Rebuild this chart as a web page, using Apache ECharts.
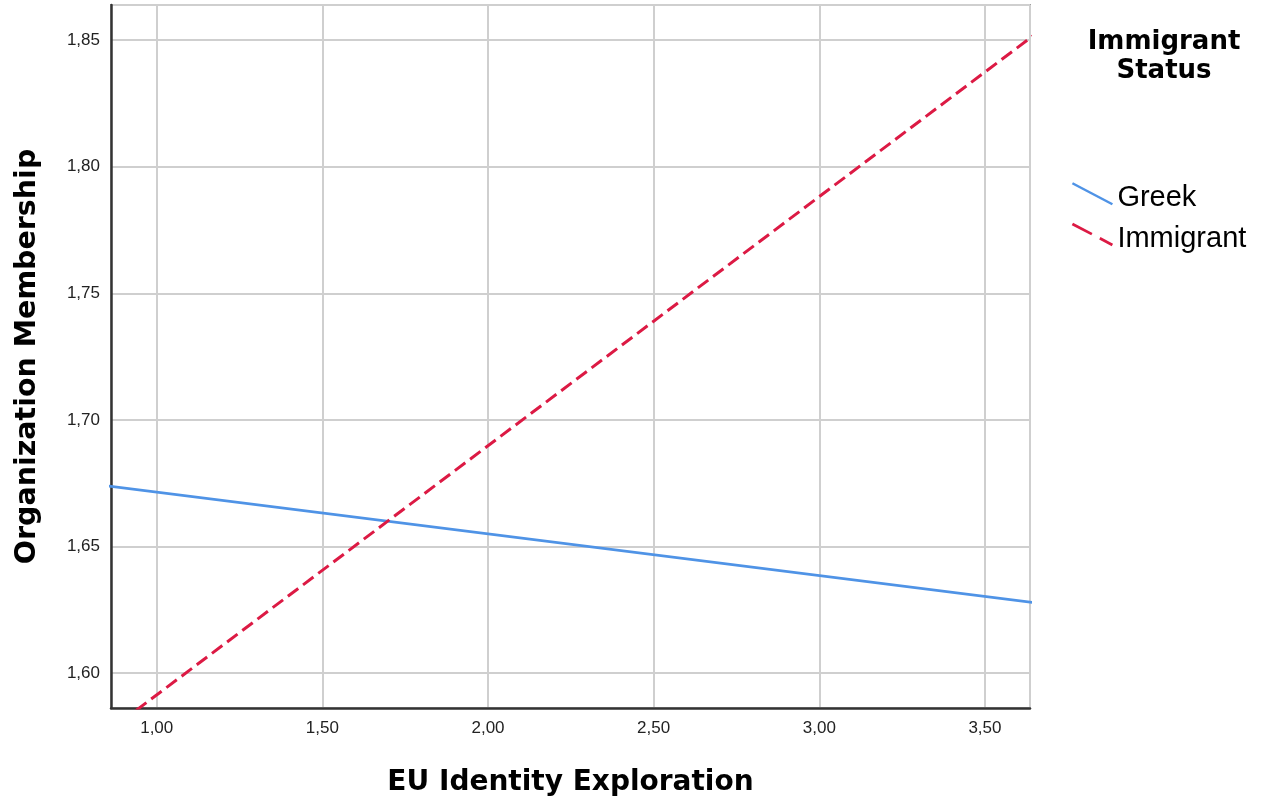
<!DOCTYPE html>
<html>
<head>
<meta charset="utf-8">
<script src="https://cdn.jsdelivr.net/npm/echarts@6/dist/echarts.min.js"></script>
<style>
html,body{margin:0;padding:0;background:#fff;}
#chart{width:1262px;height:802px;}
</style>
</head>
<body>
<div id="chart"></div>
<script>
// Data (line end points beyond the visible range, clipped by the axes)
const xPoints = [0.8, 3.7];
const greekValues = [1.6748, 1.6270];
const immigrantValues = [1.5717, 1.8571];
const seriesNames = ['Greek', 'Immigrant'];
const xAxisTitle = 'EU Identity Exploration';
const yAxisTitle = 'Organization Membership';
const legendTitle = 'Immigrant\nStatus';
const xRange = [0.862, 3.636];
const yRange = [1.5862, 1.8639];

const fmt = v => v.toFixed(2).replace('.', ',');
const chart = echarts.init(document.getElementById('chart'), null, {renderer: 'canvas'});
const sansFont = '"Liberation Sans", Arial, sans-serif';
const boldFont = '"DejaVu Sans", "Liberation Sans", sans-serif';
const iconPath = 'path://M0,0L40,21M40,30';

chart.setOption({
  animation: false,
  backgroundColor: '#ffffff',
  title: {
    text: legendTitle,
    left: 1159,
    top: 23,
    textAlign: 'center',
    textStyle: {fontFamily: boldFont, fontWeight: 'bold', fontSize: 26, lineHeight: 29, color: '#000'}
  },
  legend: {
    orient: 'vertical',
    left: 1066,
    top: 177,
    itemWidth: 40,
    itemHeight: 30,
    itemGap: 8,
    textStyle: {fontFamily: sansFont, fontSize: 29, color: '#000'},
    data: [
      {name: seriesNames[0], icon: iconPath, itemStyle: {color: 'transparent', borderColor: '#4f93e6', borderWidth: 2.5}},
      {name: seriesNames[1], icon: iconPath, itemStyle: {color: 'transparent', borderColor: '#dc1a44', borderWidth: 2.8, borderType: [22, 9]}}
    ]
  },
  grid: {
    left: 111, top: 5, right: 232, bottom: 94,
    show: true, borderColor: '#555', borderWidth: 1.5, backgroundColor: '#fff'
  },
  xAxis: {
    type: 'value',
    min: xRange[0], max: xRange[1],
    splitNumber: 5,
    name: xAxisTitle,
    nameLocation: 'middle',
    nameGap: 61,
    nameTextStyle: {fontFamily: boldFont, fontWeight: 'bold', fontSize: 28, color: '#000'},
    axisLine: {show: true, onZero: false, lineStyle: {color: '#333', width: 2.5}},
    axisTick: {show: false},
    axisLabel: {showMinLabel: false, showMaxLabel: false, margin: 12, fontFamily: sansFont, fontSize: 17, color: '#222', formatter: fmt},
    splitLine: {show: true, lineStyle: {color: '#cfcfcf', width: 2}}
  },
  yAxis: {
    type: 'value',
    min: yRange[0], max: yRange[1],
    splitNumber: 5,
    name: yAxisTitle,
    nameLocation: 'middle',
    nameGap: 69,
    nameTextStyle: {fontFamily: boldFont, fontWeight: 'bold', fontSize: 28.5, color: '#000'},
    axisLine: {show: true, onZero: false, lineStyle: {color: '#333', width: 2.5}},
    axisTick: {show: false},
    axisLabel: {showMinLabel: false, showMaxLabel: false, margin: 11, fontFamily: sansFont, fontSize: 17, color: '#222', formatter: fmt},
    splitLine: {show: true, lineStyle: {color: '#cfcfcf', width: 2}}
  },
  series: [
    {
      name: seriesNames[0],
      type: 'line',
      data: xPoints.map((x, i) => [x, greekValues[i]]),
      symbol: 'none',
      clip: true,
      lineStyle: {color: '#4f93e6', width: 2.7},
      itemStyle: {color: '#4f93e6'}
    },
    {
      name: seriesNames[1],
      type: 'line',
      data: xPoints.map((x, i) => [x, immigrantValues[i]]),
      symbol: 'none',
      clip: true,
      lineStyle: {color: '#dc1a44', width: 3, type: [13, 6]},
      itemStyle: {color: '#dc1a44'}
    }
  ]
});
</script>
</body>
</html>
